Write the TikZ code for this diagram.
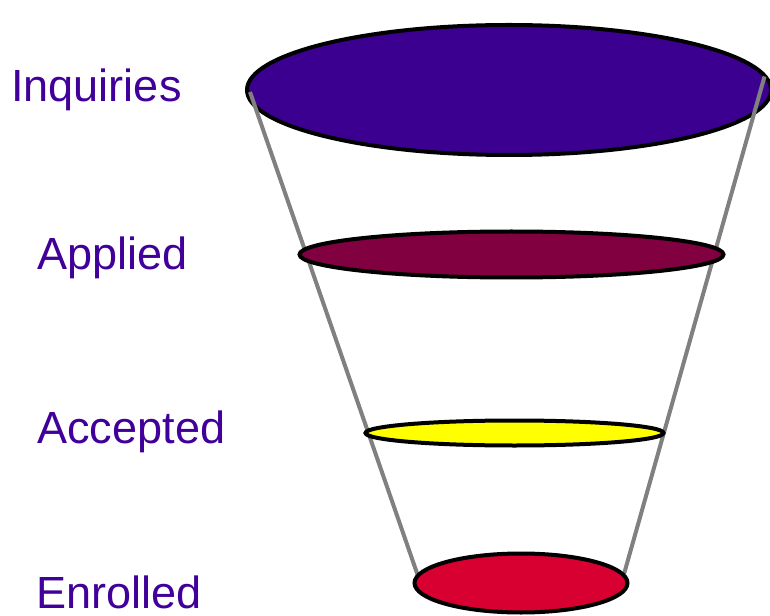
\documentclass[tikz,border=0pt]{standalone}
\usepackage{fontspec}
\setmainfont{Liberation Sans}
\usetikzlibrary{shapes.geometric}
\definecolor{labc}{RGB}{64,0,153}
\definecolor{inqc}{RGB}{60,0,145}
\definecolor{appc}{RGB}{128,0,64}
\definecolor{accc}{RGB}{255,255,0}
\definecolor{enrc}{RGB}{216,0,48}
\definecolor{rimc}{RGB}{128,128,128}

\begin{document}
\begin{tikzpicture}[x=0.75pt,y=-0.75pt,
  disc/.style={ellipse,draw=black,line width=3pt,inner sep=0pt},
  lab/.style={anchor=base west,inner sep=0pt,text depth=0pt,text=labc,font=\fontsize{33.8}{40}\selectfont},
  rim/.style={draw=rimc,line width=3pt}]
\useasboundingbox (0,0) rectangle (770,616);
% top of the funnel
\node[disc,fill=inqc,minimum width=393pt,minimum height=97.5pt] (inq) at (509,90) {};
\coordinate (endL) at (418,576);
\coordinate (endR) at (624,574);
\draw[rim] ([shift={(5,2)}]inq.west) -- (endL);
\draw[rim] ([shift={(-3,0)}]inq.3) -- (endR);
% lower stages
\node[disc,fill=appc,minimum width=318pt,minimum height=34.5pt] (app) at (511.5,254.5) {};
\node[disc,fill=accc,minimum width=223.5pt,minimum height=18.75pt] (acc) at (514.5,433) {};
\node[disc,fill=enrc,minimum width=159.75pt,minimum height=44.25pt] (enr) at (521,583) {};
% labels
\node[lab] (tinq) at (11,102) {Inquiries};
\node[lab] (tapp) at (37,270) {Applied};
\node[lab] (tacc) at (37,443) {Accepted};
\node[lab] (tenr) at (36,608) {Enrolled};
\end{tikzpicture}
\end{document}
